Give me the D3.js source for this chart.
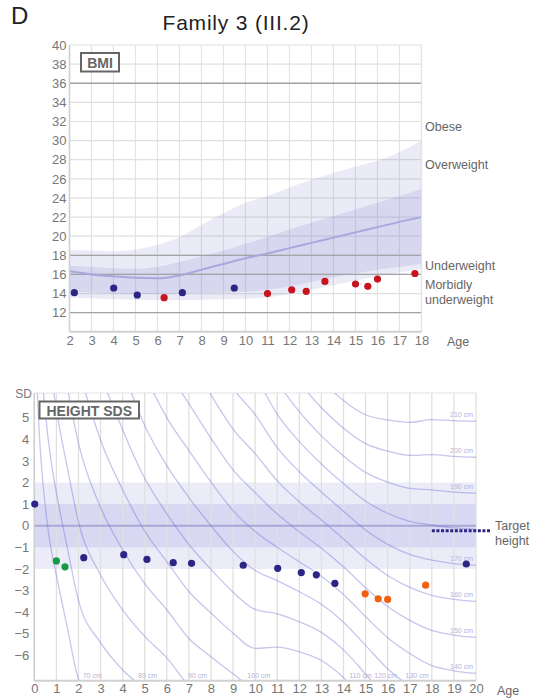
<!DOCTYPE html>
<html>
<head>
<meta charset="utf-8">
<script src="https://cdn.jsdelivr.net/npm/d3@7"></script>
<style>
  body { margin: 0; background: #fff; font-family: "Liberation Sans", Arial, sans-serif; }
  .tick text { fill: #777; font-size: 13px; }
  .side { fill: #666; font-size: 12.5px; }
</style>
</head>
<body>
<script>
// ---- BMI chart data ----
var bmiAge   = [2.22, 4.01, 5.08, 6.3, 7.13, 9.49, 11.0, 12.1, 12.76, 13.61, 15.0, 15.56, 16.0, 17.7];
var bmiValue = [14.09, 14.58, 13.85, 13.57, 14.09, 14.58, 14.0, 14.4, 14.23, 15.27, 15.0, 14.76, 15.52, 16.1];
var bmiGroup = ["b", "b", "b", "r", "b", "b", "r", "r", "r", "r", "r", "r", "r", "r"];

// reference bands for BMI (by age)
var bmiRefAge  = [2, 3, 4, 5, 6, 7, 8, 9, 10, 11, 12, 13, 14, 15, 16, 17, 18];
var bmiOuterLo = [13.6, 13.5, 13.4, 13.35, 13.3, 13.3, 13.35, 13.4, 13.45, 13.6, 13.95, 14.4, 14.9, 15.35, 15.8, 16.2, 16.6];
var bmiInnerLo = [14.2, 14.1, 14.0, 13.95, 13.95, 14.0, 14.05, 14.1, 14.2, 14.4, 14.75, 15.2, 15.7, 16.1, 16.5, 16.8, 17.1];
var bmiMedian  = [16.35, 16.0, 15.8, 15.65, 15.6, 15.9, 16.5, 17.1, 17.7, 18.2, 18.75, 19.3, 19.85, 20.4, 20.95, 21.5, 22.0];
var bmiInnerHi = [16.9, 16.8, 16.65, 16.6, 16.8, 17.3, 17.9, 18.5, 19.2, 19.95, 20.7, 21.4, 22.1, 22.8, 23.5, 24.2, 24.9];
var bmiOuterHi = [18.55, 18.5, 18.4, 18.6, 19.1, 19.9, 21.2, 22.4, 23.5, 24.2, 25.1, 25.9, 26.6, 27.3, 27.9, 28.8, 30.0];

var bmiTicksY = [12, 14, 16, 18, 20, 22, 24, 26, 28, 30, 32, 34, 36, 38, 40];
var bmiDarkLines = [12, 16, 18, 36];
var bmiSideLabels = [
  {t: ["Obese"], v: 31.0},
  {t: ["Overweight"], v: 27.0},
  {t: ["Underweight"], v: 16.5},
  {t: ["Morbidly", "underweight"], v: 14.5}
];

// ---- Height SDS chart data ----
var hAge = [0.02, 1.0, 1.39, 2.24, 4.05, 5.1, 6.29, 7.12, 9.46, 11.02, 12.09, 12.77, 13.61, 14.98, 15.57, 16.0, 17.72, 19.56];
var hSds = [1.0, -1.63, -1.9, -1.48, -1.34, -1.56, -1.71, -1.74, -1.83, -1.97, -2.17, -2.27, -2.67, -3.15, -3.38, -3.41, -2.75, -1.77];
var hGroup = ["b", "g", "g", "b", "b", "b", "b", "b", "b", "b", "b", "b", "b", "o", "o", "o", "o", "b"];

var targetSds = -0.23, targetFrom = 18;

// growth reference used for the iso-height curves
var refAge  = [0, 0.25, 0.5, 0.75, 1, 1.5, 2, 3, 4, 5, 6, 7, 8, 9, 10, 11, 12, 13, 14, 15, 16, 17, 18, 19, 20];
var refMean = [51, 61.5, 68, 72.5, 76, 82.8, 89.5, 97.3, 104, 111, 117.5, 124, 130, 136.3, 141.5, 146.5, 152, 158, 164.8, 171.5, 176, 178.7, 179.8, 180.6, 181];
var refSD   = [2.0, 2.2, 2.3, 2.45, 2.6, 2.7, 2.75, 3.2, 3.6, 4.1, 4.5, 4.6, 4.95, 5.3, 5.55, 6.5, 7.2, 7.7, 7.8, 7.5, 6.95, 6.55, 6.15, 6.05, 6.0];
var curveHeights = [70, 80, 90, 100, 110, 120, 130, 140, 150, 160, 170, 180, 190, 200, 210];
var hiddenLabels = [180];
var sdsTicks = [-6, -5, -4, -3, -2, -1, 0, 1, 2, 3, 4, 5];

var colors = {b: "#2b2683", r: "#c8141e", g: "#159a46", o: "#f0600f"};

var width = 537, height = 700;
var svg = d3.select("body").append("svg")
    .attr("width", width)
    .attr("height", height);

// header
svg.append("text").attr("x", 11).attr("y", 24).attr("font-size", 24).attr("fill", "#222").text("D");
svg.append("text").attr("x", 236).attr("y", 30).attr("text-anchor", "middle")
    .attr("font-size", 21).attr("letter-spacing", 0.8).attr("fill", "#222").text("Family 3 (III.2)");

//==================== BMI chart ====================
var x1 = d3.scaleLinear().domain([2, 18]).range([69.5, 421.5]);
var y1 = d3.scaleLinear().domain([10, 40]).range([331.8, 45]);
var g1 = svg.append("g");

// grid
g1.selectAll(".vgrid").data(d3.range(2, 19)).enter().append("line")
    .attr("x1", d => x1(d)).attr("x2", d => x1(d))
    .attr("y1", y1(40)).attr("y2", y1(10))
    .attr("stroke", "#e3e3e3").attr("stroke-width", 1.2);
g1.selectAll(".hgrid").data(bmiTicksY).enter().append("line")
    .attr("x1", x1(2)).attr("x2", x1(18))
    .attr("y1", d => y1(d)).attr("y2", d => y1(d))
    .attr("stroke", "#e0e0e0").attr("stroke-width", 1.2);

// bands
var bandArea = function(lo, hi){
    return d3.area()
        .x((d, i) => x1(bmiRefAge[i]))
        .y0((d, i) => y1(lo[i]))
        .y1((d, i) => y1(hi[i]))
        .curve(d3.curveMonotoneX);
};
g1.append("path")
    .attr("d", bandArea(bmiOuterLo, bmiOuterHi)(bmiRefAge))
    .attr("fill", "rgb(110,110,205)").attr("fill-opacity", 0.14);
g1.append("path")
    .attr("d", bandArea(bmiInnerLo, bmiInnerHi)(bmiRefAge))
    .attr("fill", "rgb(110,110,200)").attr("fill-opacity", 0.16);

// dark reference lines
g1.selectAll(".dark").data(bmiDarkLines).enter().append("line")
    .attr("x1", x1(2)).attr("x2", x1(18))
    .attr("y1", d => y1(d)).attr("y2", d => y1(d))
    .attr("stroke", "#a3a3a3").attr("stroke-width", 1.3);

// median
g1.append("path")
    .attr("d", d3.line().x((d, i) => x1(bmiRefAge[i])).y((d, i) => y1(bmiMedian[i]))
        .curve(d3.curveMonotoneX)(bmiRefAge))
    .attr("fill", "none").attr("stroke", "#a8a8dc").attr("stroke-width", 2);

// axes frame
g1.append("line").attr("x1", x1(2)).attr("x2", x1(2)).attr("y1", y1(40)).attr("y2", y1(10))
    .attr("stroke", "#d0d0d0").attr("stroke-width", 1.5);
g1.append("line").attr("x1", x1(18)).attr("x2", x1(18)).attr("y1", y1(40)).attr("y2", y1(10))
    .attr("stroke", "#e3e3e3").attr("stroke-width", 1.2);
g1.append("line").attr("x1", x1(2)).attr("x2", x1(18)).attr("y1", y1(10)).attr("y2", y1(10))
    .attr("stroke", "#d0d0d0").attr("stroke-width", 2);

var ax1 = g1.append("g").attr("transform", "translate(" + x1(2) + ",0)")
    .call(d3.axisLeft(y1).tickValues(bmiTicksY).tickSize(0).tickPadding(3));
ax1.select(".domain").remove();
var bx1 = g1.append("g").attr("transform", "translate(0," + y1(10) + ")")
    .call(d3.axisBottom(x1).tickValues(d3.range(2, 19)).tickSize(0).tickPadding(4));
bx1.select(".domain").remove();
g1.append("text").attr("x", 447).attr("y", 346).attr("class", "side").attr("font-size", 13).text("Age");

// side labels
bmiSideLabels.forEach(function(s){
    var t = g1.append("text").attr("class", "side").attr("x", 425).attr("y", y1(s.v));
    s.t.forEach(function(line, i){
        t.append("tspan").attr("x", 425).attr("dy", i === 0 ? 0 : 15).text(line);
    });
});

// BMI box label
g1.append("rect").attr("x", 81).attr("y", 53).attr("width", 38).attr("height", 18.5)
    .attr("fill", "#fff").attr("stroke", "#666").attr("stroke-width", 2);
g1.append("text").attr("x", 100).attr("y", 67.5).attr("text-anchor", "middle")
    .attr("font-size", 14).attr("font-weight", "bold").attr("fill", "#666").text("BMI");

// points
g1.selectAll(".bmiDot").data(bmiAge).enter().append("circle")
    .attr("cx", d => x1(d))
    .attr("cy", (d, i) => y1(bmiValue[i]))
    .attr("r", 3.6)
    .attr("fill", (d, i) => colors[bmiGroup[i]]);

//==================== Height SDS chart ====================
var x2 = d3.scaleLinear().domain([0, 20]).range([34.3, 476]);
var y2 = d3.scaleLinear().domain([-7.17, 6.14]).range([680.7, 393]);
var g2 = svg.append("g");

g2.append("clipPath").attr("id", "clip2").append("rect")
    .attr("x", x2(0)).attr("y", y2(6.14)).attr("width", x2(20) - x2(0)).attr("height", y2(-7.17) - y2(6.14));

// bands
g2.append("rect").attr("x", x2(0)).attr("width", x2(20) - x2(0))
    .attr("y", y2(2)).attr("height", y2(-2) - y2(2))
    .attr("fill", "rgb(110,110,205)").attr("fill-opacity", 0.13);
g2.append("rect").attr("x", x2(0)).attr("width", x2(20) - x2(0))
    .attr("y", y2(1)).attr("height", y2(-1) - y2(1))
    .attr("fill", "rgb(110,110,200)").attr("fill-opacity", 0.15);

// vertical grid
g2.selectAll(".vgrid").data(d3.range(0, 21)).enter().append("line")
    .attr("x1", d => x2(d)).attr("x2", d => x2(d))
    .attr("y1", y2(6.14)).attr("y2", y2(-7.17))
    .attr("stroke", "#e0e0e0").attr("stroke-width", 1.3);
g2.append("line").attr("x1", x2(0)).attr("x2", x2(20)).attr("y1", y2(6.14)).attr("y2", y2(6.14))
    .attr("stroke", "#e3e3e3").attr("stroke-width", 1.2);

// zero line
g2.append("line").attr("x1", x2(0)).attr("x2", x2(20)).attr("y1", y2(0)).attr("y2", y2(0))
    .attr("stroke", "#a8a8d8").attr("stroke-width", 2);

// iso-height curves
var sdsLine = d3.line()
    .x(d => x2(d[0])).y(d => y2(d[1]))
    .curve(d3.curveMonotoneX);
var curves = curveHeights.map(function(h){
    return refAge.map((a, i) => [a, (h - refMean[i]) / refSD[i]]);
});
g2.append("g").attr("clip-path", "url(#clip2)")
    .selectAll(".iso").data(curves).enter().append("path")
    .attr("d", sdsLine)
    .attr("fill", "none")
    .attr("stroke", "rgb(105,105,210)").attr("stroke-opacity", 0.38).attr("stroke-width", 1.3);

// curve labels: at the bottom edge where a curve leaves the chart, else at age 20
curves.forEach(function(pts, k){
    var h = curveHeights[k];
    if (hiddenLabels.indexOf(h) >= 0) return;
    var ymin = y2.domain()[0], cross = null;
    for (var i = 1; i < pts.length; i++){
        if (pts[i - 1][1] > ymin && pts[i][1] <= ymin){
            var f = (pts[i - 1][1] - ymin) / (pts[i - 1][1] - pts[i][1]);
            cross = pts[i - 1][0] + f * (pts[i][0] - pts[i - 1][0]);
            break;
        }
    }
    var lbl = g2.append("text").attr("font-size", 7).attr("fill", "#b4b4d4").text(h + " cm");
    if (cross !== null){
        lbl.attr("x", x2(cross) + 3).attr("y", y2(ymin) - 3);
    } else {
        lbl.attr("x", x2(20) - 3).attr("y", y2(pts[pts.length - 1][1]) - 4).attr("text-anchor", "end");
    }
});

// frame
g2.append("line").attr("x1", x2(0)).attr("x2", x2(0)).attr("y1", y2(6.14)).attr("y2", y2(-7.17))
    .attr("stroke", "#d0d0d0").attr("stroke-width", 1.5);
g2.append("line").attr("x1", x2(0)).attr("x2", x2(20)).attr("y1", y2(-7.17)).attr("y2", y2(-7.17))
    .attr("stroke", "#d0d0d0").attr("stroke-width", 2);

var ax2 = g2.append("g").attr("transform", "translate(" + (x2(0) - 2) + ",0)")
    .call(d3.axisLeft(y2).tickValues(sdsTicks).tickSize(0).tickPadding(3));
ax2.select(".domain").remove();
var bx2 = g2.append("g").attr("transform", "translate(0," + y2(-7.17) + ")")
    .call(d3.axisBottom(x2).tickValues(d3.range(0, 21)).tickSize(0).tickPadding(3));
bx2.select(".domain").remove();
g2.append("text").attr("x", 32).attr("y", 398).attr("text-anchor", "end")
    .attr("font-size", 12).attr("fill", "#777").text("SD");
g2.append("text").attr("x", 497).attr("y", 695).attr("class", "side").attr("font-size", 13).text("Age");

// HEIGHT SDS box
g2.append("rect").attr("x", 39.5).attr("y", 401.5).attr("width", 99.5).attr("height", 17)
    .attr("fill", "#fff").attr("stroke", "#666").attr("stroke-width", 2);
g2.append("text").attr("x", 89.3).attr("y", 415.5).attr("text-anchor", "middle")
    .attr("font-size", 14).attr("font-weight", "bold").attr("fill", "#666").text("HEIGHT SDS");

// target height
g2.append("line")
    .attr("x1", x2(targetFrom)).attr("x2", x2(20) + 14)
    .attr("y1", y2(targetSds)).attr("y2", y2(targetSds))
    .attr("stroke", colors.b).attr("stroke-width", 3).attr("stroke-dasharray", "3,1.6");
var tt = g2.append("text").attr("class", "side").attr("x", 495).attr("y", y2(targetSds) - 1);
tt.append("tspan").attr("x", 495).attr("dy", 0).text("Target");
tt.append("tspan").attr("x", 495).attr("dy", 15).text("height");

// points
g2.selectAll(".hDot").data(hAge).enter().append("circle")
    .attr("cx", d => x2(d))
    .attr("cy", (d, i) => y2(hSds[i]))
    .attr("r", 3.6)
    .attr("fill", (d, i) => colors[hGroup[i]]);
</script>
</body>
</html>
